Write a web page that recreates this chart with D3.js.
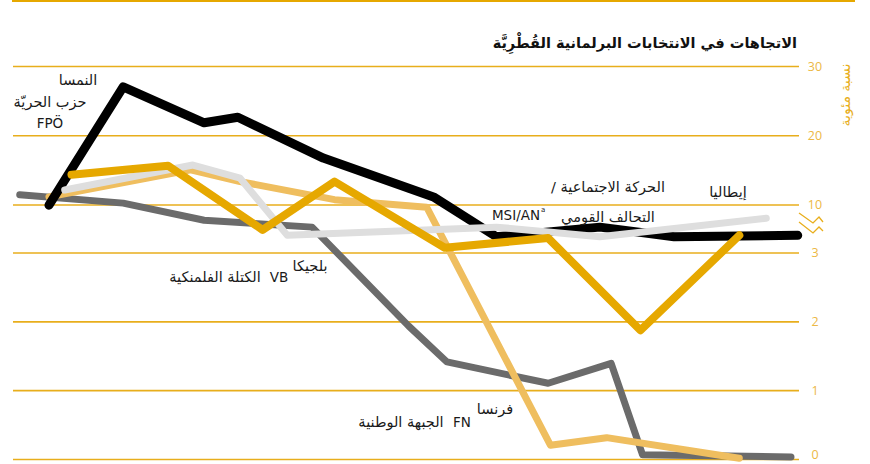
<!DOCTYPE html>
<html>
<head>
<meta charset="utf-8">
<script src="https://cdn.jsdelivr.net/npm/d3@7"></script>
<style>
  body { margin: 0; background: #fff; }
  svg { display: block; font-family: "DejaVu Sans", "Noto Sans", sans-serif; }
  .label { font-size: 13.5px; fill: #1a1a1a; }
  .label.ar { font-size: 14.5px; }
</style>
</head>
<body>
<svg width="870" height="464"></svg>
<script>
// y tick values (note the break between 3 and 10)
var yTicks = [0, 1, 2, 3, 10, 20, 30];

// series: election years and vote share (%)
var austriaYears = [1986.6, 1989.9, 1993.5, 1995.0, 1998.8, 2003.7, 2006.5, 2011.1, 2014.4, 2019.9];
var austriaValues = [9.9, 27.0, 21.8, 22.6, 16.7, 11.1, 5.3, 6.7, 5.3, 5.5];

var belgiumYears = [1985.3, 1989.9, 1993.5, 1998.3, 2002.6, 2004.3, 2008.8, 2011.6, 2013.0, 2019.6];
var belgiumValues = [11.4, 10.2, 7.7, 6.7, 1.93, 1.41, 1.10, 1.39, 0.06, 0.03];

var franceYears = [1986.6, 1992.9, 1995.1, 1999.3, 2003.4, 2008.9, 2011.4, 2017.3];
var franceValues = [11.1, 15.0, 13.3, 10.7, 9.6, 0.20, 0.31, 0.01];

var otherYears = [1987.3, 1993.0, 1995.1, 1997.2, 2006.5, 2011.1, 2018.5];
var otherValues = [12.1, 15.7, 13.8, 5.5, 6.7, 5.3, 8.0];

var italyYears = [1987.6, 1991.9, 1996.1, 1999.3, 2004.2, 2008.8, 2012.9, 2017.3];
var italyValues = [14.3, 15.6, 6.3, 13.3, 3.7, 5.1, 1.87, 5.5];

var svg = d3.select("svg");
var gold = "#e8ae1c";

var x = d3.scaleLinear().domain([1985, 2020]).range([13, 800]);
// broken axis: piecewise linear scale
var y = d3.scaleLinear().domain([0, 3, 10, 30]).range([459, 252.5, 204.5, 66]);

// top rule
svg.append("line")
  .attr("x1", 12).attr("x2", 855)
  .attr("y1", 1).attr("y2", 1)
  .attr("stroke", "#e6a800").attr("stroke-width", 2);

// title
svg.append("text")
  .attr("x", 797).attr("y", 48)
  .attr("text-anchor", "start")
  .attr("direction", "rtl")
  .style("font-size", "14.5px")
  .style("font-weight", "bold")
  .attr("fill", "#111")
  .text("الاتجاهات في الانتخابات البرلمانية القُطْرِيَّة");

// grid lines + tick labels
var axis = svg.append("g")
  .attr("transform", "translate(13,0)")
  .call(d3.axisRight(y).tickValues(yTicks).tickSize(786).tickFormat(d3.format("d")));
axis.select(".domain").remove();
axis.selectAll(".tick line").attr("stroke", gold).attr("stroke-width", 1.6);
axis.selectAll(".tick text")
  .attr("x", 802)
  .attr("dy", d => d === 0 ? "-0.05em" : "0.32em")
  .attr("text-anchor", "middle")
  .attr("fill", "#ecb845")
  .style("font-family", "'Open Sans', sans-serif")
  .style("font-size", "12.5px");

// axis break marks
var brk = d3.line();
svg.append("path")
  .attr("d", brk([[799, 213], [813, 223], [819, 217], [823, 222]]))
  .attr("fill", "none").attr("stroke", gold).attr("stroke-width", 1.3);
svg.append("path")
  .attr("d", brk([[799, 222], [813, 233], [819, 227], [823, 231]]))
  .attr("fill", "none").attr("stroke", gold).attr("stroke-width", 1.3);

// y axis title
svg.append("text")
  .attr("transform", "translate(850,95) rotate(-90)")
  .attr("text-anchor", "middle")
  .attr("direction", "rtl")
  .attr("fill", "#e8ae1c")
  .style("font-size", "14px")
  .text("نسبة مئوية");

var line = d3.line()
  .x(d => x(d[0]))
  .y(d => y(d[1]));

var series = [
  { years: belgiumYears, values: belgiumValues, color: "#6b6b6b", width: 7 },
  { years: franceYears, values: franceValues, color: "#efbe5f", width: 7 },
  { years: austriaYears, values: austriaValues, color: "#000000", width: 9 },
  { years: otherYears, values: otherValues, color: "#dedede", width: 7 },
  { years: italyYears, values: italyValues, color: "#e6a800", width: 8 }
];

svg.append("g").selectAll("path")
  .data(series)
  .enter().append("path")
  .attr("fill", "none")
  .attr("stroke", d => d.color)
  .attr("stroke-width", d => d.width)
  .attr("stroke-linecap", "round")
  .attr("stroke-linejoin", "round")
  .attr("d", d => line(d3.zip(d.years, d.values)));

// annotations
function label(txt, px, py, rtl) {
  var t = svg.append("text")
    .attr("class", rtl ? "label ar" : "label")
    .attr("x", px).attr("y", py)
    .attr("text-anchor", "middle")
    .text(txt);
  if (rtl) t.attr("direction", "rtl");
}

label("النمسا", 78, 85, true);
label("حزب الحريّة", 50, 107, true);
label("FPÖ", 50, 128);

label("بلجيكا", 310, 271, true);
label("VB", 279, 282);
label("الكتلة الفلمنكية", 215, 282, true);

label("فرنسا", 495, 414, true);
label("FN", 462, 427);
label("الجبهة الوطنية", 401, 427, true);

label("إيطاليا", 728, 197, true);
label("الحركة الاجتماعية /", 608, 192, true);
label("MSI/AN", 516, 220);
svg.append("text").attr("class", "label")
  .attr("x", 541).attr("y", 212)
  .style("font-size", "7px")
  .text("a");
label("التحالف القومي", 608, 222, true);
</script>
</body>
</html>
